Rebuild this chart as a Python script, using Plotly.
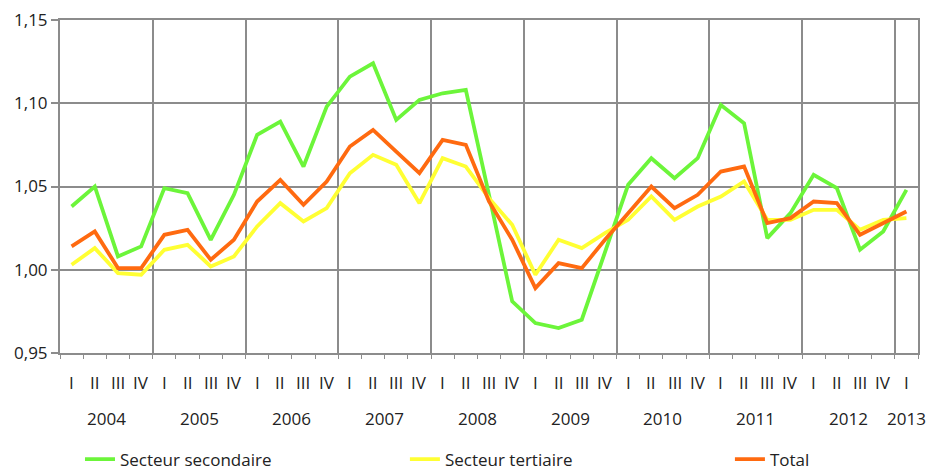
import plotly.graph_objects as go

quarters = ["I", "II", "III", "IV"]
years = ["2004", "2005", "2006", "2007", "2008", "2009", "2010", "2011", "2012", "2013"]
quarter_labels = [quarters[i % 4] for i in range(37)]

secondaire = [1.038, 1.050, 1.008, 1.014, 1.049, 1.046, 1.018, 1.045,
              1.081, 1.089, 1.062, 1.098, 1.116, 1.124, 1.090, 1.102,
              1.106, 1.108, 1.045, 0.981, 0.968, 0.965, 0.970, 1.011,
              1.051, 1.067, 1.055, 1.067, 1.099, 1.088, 1.019, 1.034,
              1.057, 1.049, 1.012, 1.023, 1.048]
tertiaire = [1.003, 1.013, 0.998, 0.997, 1.012, 1.015, 1.002, 1.008,
             1.026, 1.040, 1.029, 1.037, 1.058, 1.069, 1.063, 1.040,
             1.067, 1.062, 1.043, 1.027, 0.997, 1.018, 1.013, 1.022,
             1.030, 1.044, 1.030, 1.038, 1.044, 1.053, 1.030, 1.030,
             1.036, 1.036, 1.024, 1.030, 1.031]
total = [1.014, 1.023, 1.001, 1.001, 1.021, 1.024, 1.006, 1.018,
         1.041, 1.054, 1.039, 1.053, 1.074, 1.084, 1.071, 1.058,
         1.078, 1.075, 1.041, 1.018, 0.989, 1.004, 1.001, 1.018,
         1.034, 1.050, 1.037, 1.045, 1.059, 1.062, 1.028, 1.031,
         1.041, 1.040, 1.021, 1.028, 1.035]

n = len(total)
x = list(range(n))
FONT = "Open Sans"
FS = 17
GRID = "#8c8c8c"
TXT = "#222222"

fig = go.Figure()
fig.add_trace(go.Scatter(x=x, y=secondaire, mode="lines", name="Secteur secondaire",
                         line=dict(color="#6cf53a", width=3.8), legend="legend"))
fig.add_trace(go.Scatter(x=x, y=tertiaire, mode="lines", name="Secteur tertiaire",
                         line=dict(color="#ffff33", width=3.8), legend="legend2"))
fig.add_trace(go.Scatter(x=x, y=total, mode="lines", name="Total",
                         line=dict(color="#ff6a10", width=3.8), legend="legend3"))

year_bounds = [4 * k - 0.5 for k in range(len(years))] + [n - 0.5]
quarter_bounds = [i - 0.5 for i in range(n + 1)]

annotations = []
for i, q in enumerate(quarter_labels):
    annotations.append(dict(x=i, y=-0.09, xref="x", yref="paper", text=q, showarrow=False,
                            font=dict(family=FONT, size=FS, color=TXT), yanchor="middle"))
for k, yr in enumerate(years):
    xc = min(4 * k + 1.5, n - 1)
    annotations.append(dict(x=xc, y=-0.197, xref="x", yref="paper", text=yr, showarrow=False,
                            font=dict(family=FONT, size=FS, color=TXT), yanchor="middle"))

leg_common = dict(orientation="h", yref="container", y=0.022, yanchor="middle",
                  xanchor="left", font=dict(family=FONT, size=FS, color=TXT),
                  bgcolor="rgba(0,0,0,0)")

fig.update_layout(
    width=931, height=470,
    margin=dict(l=60, r=13, t=20, b=117),
    paper_bgcolor="white", plot_bgcolor="white",
    font=dict(family=FONT, size=FS, color=TXT),
    showlegend=True,
    legend=dict(x=0.0233, **leg_common),
    legend2=dict(x=0.402, **leg_common),
    legend3=dict(x=0.7808, **leg_common),
    annotations=annotations,
    xaxis=dict(range=[-0.5, n - 0.5], tickmode="array", tickvals=year_bounds,
               ticktext=["" for _ in year_bounds], ticks="outside", ticklen=9,
               tickcolor=GRID, tickwidth=1.5, automargin=False,
               showgrid=True, gridcolor=GRID, gridwidth=1.5,
               showline=True, linecolor=GRID, linewidth=2, mirror=True,
               zeroline=False,
               minor=dict(tickmode="array", tickvals=quarter_bounds, ticks="outside",
                          ticklen=4, tickcolor=GRID, tickwidth=1, showgrid=False)),
    yaxis=dict(range=[0.95, 1.15], tickmode="linear", tick0=0.95, dtick=0.05,
               tickformat=".2f", ticks="outside", ticklen=7, tickcolor=GRID, tickwidth=1.5,
               showgrid=True, gridcolor=GRID, gridwidth=1.5, automargin=False,
               showline=True, linecolor=GRID, linewidth=2, mirror=True,
               zeroline=False, tickfont=dict(family=FONT, size=FS, color=TXT)),
    separators=", ",
)

fig.write_html("out.html", config={"displayModeBar": False},
               post_script="document.body.style.margin='0';document.body.style.overflow='hidden';")
